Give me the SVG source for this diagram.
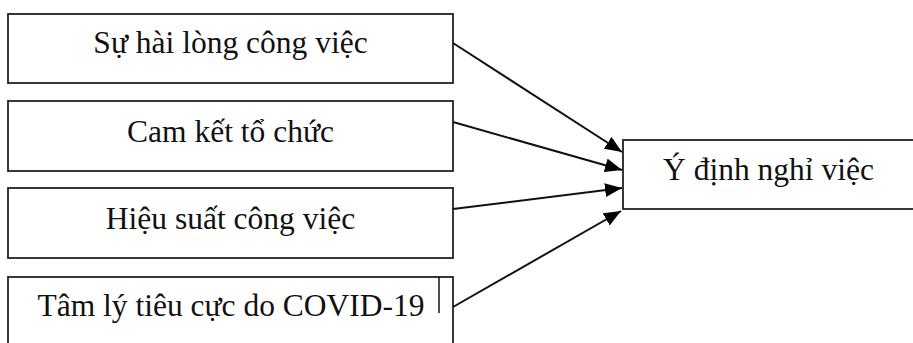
<svg xmlns="http://www.w3.org/2000/svg" width="913" height="343" viewBox="0 0 913 343">
<defs>
<marker id="ah" markerUnits="userSpaceOnUse" markerWidth="18" markerHeight="14" refX="17" refY="7" orient="auto">
<path d="M0,0 L17,7 L0,14 Z" fill="#000"/>
</marker>
<style>
.box{fill:#fff;stroke:#222;stroke-width:1.8}
.t{font-family:"Liberation Serif","Times New Roman",serif;font-size:31.5px;fill:#111;text-anchor:middle}
.c{stroke:#111;stroke-width:2;fill:none}
</style>
</defs>
<rect width="913" height="343" fill="#fff"/>
<g id="n1"><rect class="box" x="8" y="14" width="445" height="69"/><text class="t" x="230.5" y="53">Sự hài lòng công việc</text></g>
<g id="n2"><rect class="box" x="8" y="101" width="445" height="70"/><text class="t" x="230.5" y="142">Cam kết tổ chức</text></g>
<g id="n3"><rect class="box" x="8" y="188" width="445" height="70"/><text class="t" x="230.5" y="229">Hiệu suất công việc</text></g>
<g id="n4"><rect class="box" x="8" y="277" width="445" height="80"/><text class="t" x="231" y="316">Tâm lý tiêu cực do COVID-19</text><line x1="439" y1="277" x2="439" y2="313" stroke="#111" stroke-width="1.5"/></g>
<g id="n5"><rect class="box" x="623" y="140" width="292" height="69"/><text class="t" x="768.5" y="180">Ý định nghỉ việc</text></g>
<g id="connectors">
<line class="c" x1="453" y1="43" x2="622" y2="152" marker-end="url(#ah)"/>
<line class="c" x1="453" y1="122" x2="622" y2="170" marker-end="url(#ah)"/>
<line class="c" x1="453" y1="209" x2="622" y2="188" marker-end="url(#ah)"/>
<line class="c" x1="453" y1="307" x2="621" y2="211" marker-end="url(#ah)"/>
</g>
</svg>
